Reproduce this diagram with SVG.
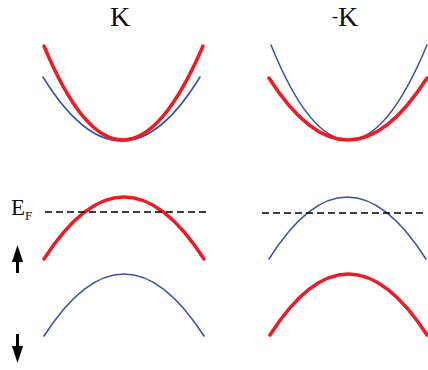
<svg xmlns="http://www.w3.org/2000/svg" width="428" height="370" viewBox="0 0 428 370">
<style>
.red{fill:none;stroke:#ed1c24;stroke-width:3.5;stroke-linecap:round}
.blue{fill:none;stroke:#3451a3;stroke-width:1.5;stroke-linecap:round}
.dash{fill:none;stroke:#000;stroke-width:1.5;stroke-dasharray:7,4}
.lbl{font-family:"Liberation Serif","Times New Roman",serif;fill:#111}
</style>
<rect width="428" height="370" fill="#fff"/>
<g id="title-K"><text class="lbl" x="120" y="26" font-size="28" text-anchor="middle">K</text></g>
<g id="title-negK"><text class="lbl" x="332" y="26" font-size="28"><tspan font-size="18" dy="-4">-</tspan><tspan dy="4">K</tspan></text></g>
<g id="bands-K">
<path class="blue" d="M43,77 Q122,205 200,77"/>
<path class="red" d="M44,46 Q122,234 203,46"/>
<path class="red" d="M44,259 Q124,135 204,259"/>
<path class="blue" d="M44,336 Q124,212 204,336"/>
</g>
<g id="bands-negK">
<path class="blue" d="M271,45 Q348,235 427,45"/>
<path class="red" d="M269,78 Q348,202 427,78"/>
<path class="blue" d="M269,259 Q347,135 426,259"/>
<path class="red" d="M270,335 Q348,213 427,335"/>
</g>
<g id="connectors">
<line class="dash" x1="45" y1="212" x2="210" y2="212"/>
<line class="dash" x1="262" y1="213" x2="426" y2="213"/>
<line x1="17.5" y1="258" x2="17.5" y2="273" stroke="#000" stroke-width="3"/>
<polygon points="17.5,245 12,262 23,262" fill="#000"/>
<line x1="17.5" y1="334" x2="17.5" y2="350" stroke="#000" stroke-width="3"/>
<polygon points="17.5,363 12,346 23,346" fill="#000"/>
</g>
<g id="label-EF"><text class="lbl" x="11" y="215" font-size="23">E<tspan font-size="13" dy="5">F</tspan></text></g>
</svg>
